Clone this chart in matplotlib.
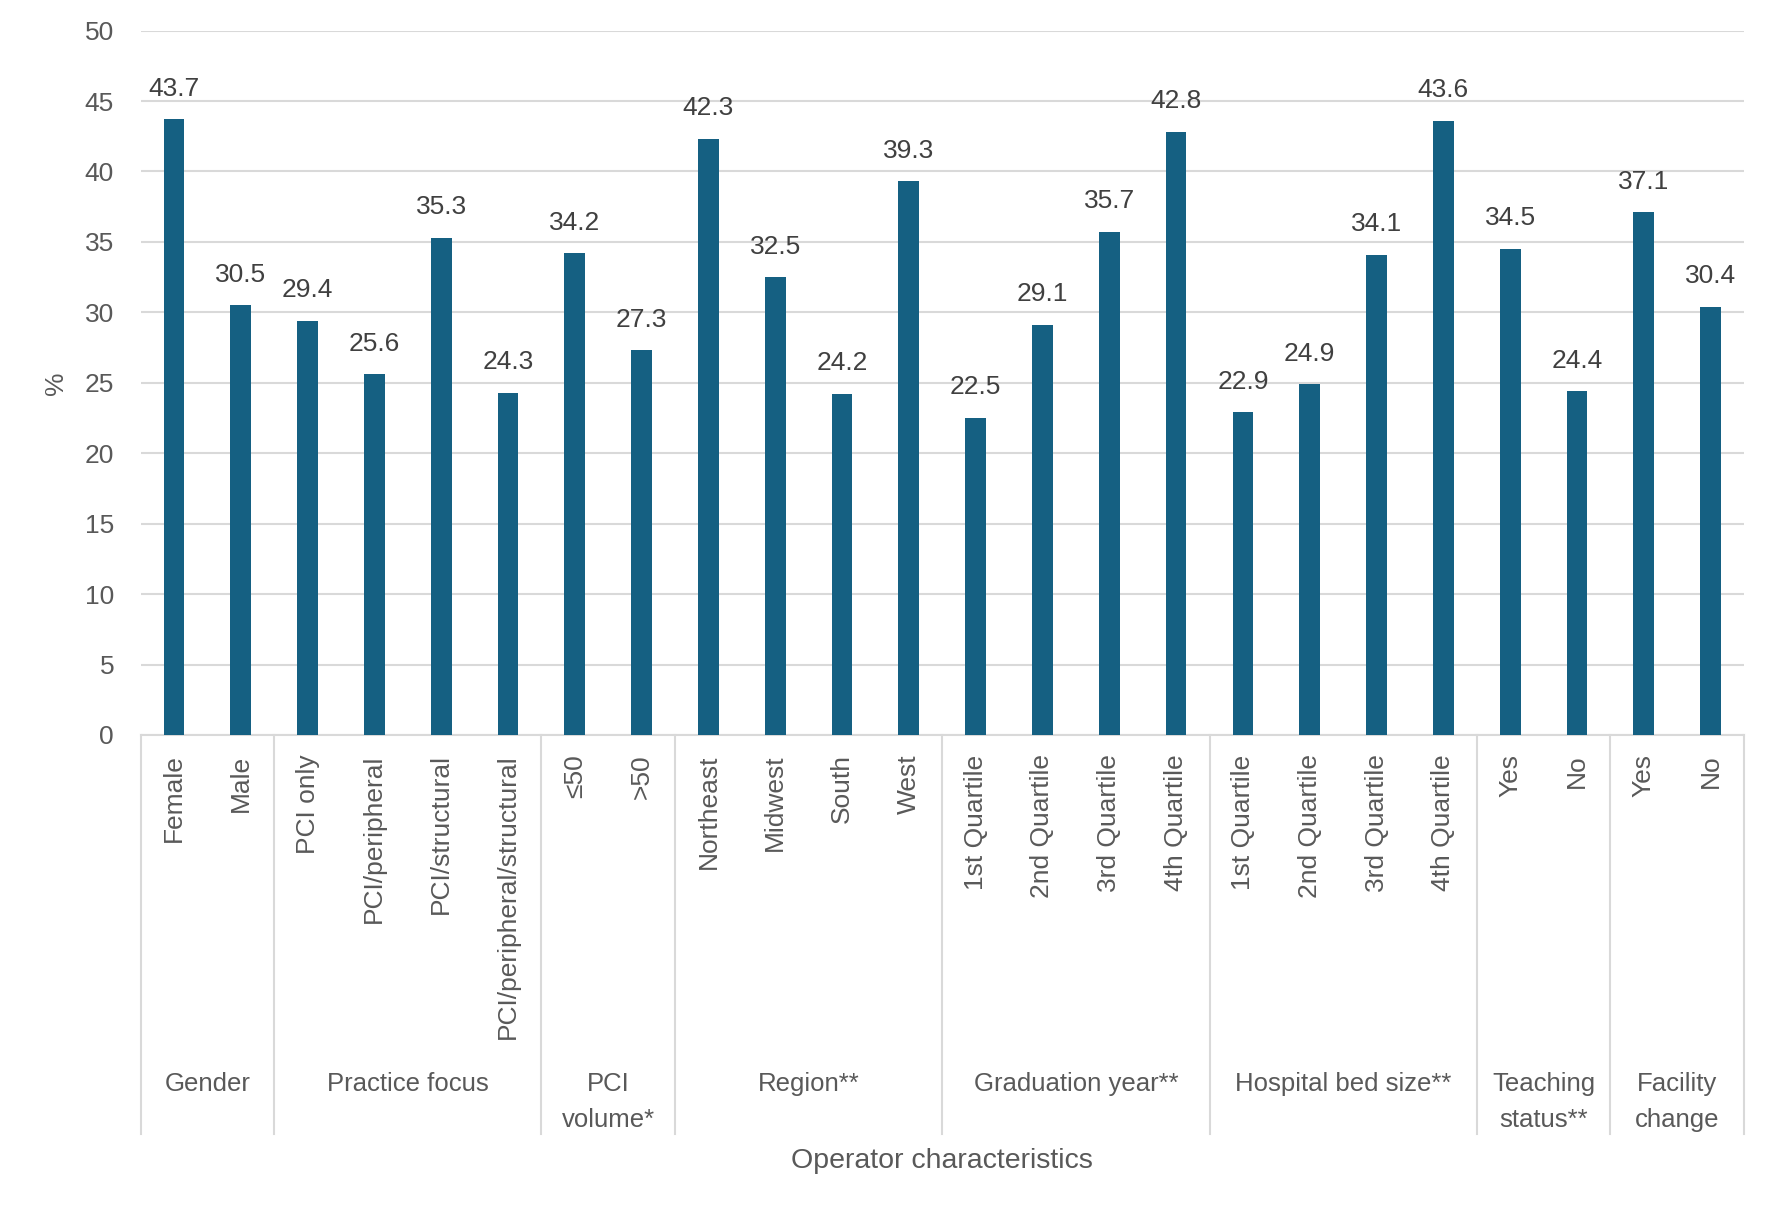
import matplotlib.pyplot as plt
from matplotlib.transforms import blended_transform_factory
from matplotlib.lines import Line2D

categories = ['Female', 'Male',
              'PCI only', 'PCI/peripheral', 'PCI/structural', 'PCI/peripheral/structural',
              '≤50', '>50',
              'Northeast', 'Midwest', 'South', 'West',
              '1st Quartile', '2nd Quartile', '3rd Quartile', '4th Quartile',
              '1st Quartile', '2nd Quartile', '3rd Quartile', '4th Quartile',
              'Yes', 'No',
              'Yes', 'No']
values = [43.7, 30.5,
          29.4, 25.6, 35.3, 24.3,
          34.2, 27.3,
          42.3, 32.5, 24.2, 39.3,
          22.5, 29.1, 35.7, 42.8,
          22.9, 24.9, 34.1, 43.6,
          34.5, 24.4,
          37.1, 30.4]
groups = ['Gender', 'Practice focus', 'PCI\nvolume*', 'Region**', 'Graduation year**',
          'Hospital bed size**', 'Teaching\nstatus**', 'Facility\nchange']
group_sizes = [2, 4, 2, 4, 4, 4, 2, 2]

BAR = '#156082'
TEXT = '#595959'
GRID = '#d9d9d9'
W, H = 1776, 1216

plt.rcParams['font.family'] = ['Liberation Sans', 'DejaVu Sans']

fig = plt.figure(figsize=(W / 100, H / 100), dpi=100)
ax = fig.add_axes([140.5 / W, 1 - 735 / H, (1744 - 140.5) / W, (735 - 30.6) / H])

x = list(range(len(values)))
ax.bar(x, values, width=0.31, color=BAR, zorder=3)
for xi, v in zip(x, values):
    ax.annotate(f'{v:.1f}', (xi, v), xytext=(0, 17), textcoords='offset points',
                ha='center', va='baseline', fontsize=19, color='#404040')

ax.set_xlim(-0.5, len(values) - 0.5)
ax.set_ylim(0, 50)
ax.set_yticks(range(0, 51, 5))
ax.yaxis.grid(True, color=GRID, linewidth=1.5, zorder=0)
ax.tick_params(axis='y', length=0, pad=19, labelsize=19, labelcolor=TEXT)
ax.set_xticks(x)
ax.set_xticklabels(categories, rotation=90, va='top', ha='center')
ax.tick_params(axis='x', length=0, pad=14, labelsize=19, labelcolor=TEXT)
for s in ['left', 'right', 'top']:
    ax.spines[s].set_visible(False)
ax.spines['bottom'].set_color(GRID)
ax.spines['bottom'].set_linewidth(1.5)

# group separators and labels below the axis
tr = blended_transform_factory(ax.transData, fig.transFigure)
y_axis = 1 - 735 / H
y_low = 1 - 1134 / H
start = 0
bounds = [-0.5]
for name, n in zip(groups, group_sizes):
    mid = start + (n - 1) / 2
    ax.text(mid, 1 - 1072 / H, name, transform=tr, ha='center', va='top',
            fontsize=18.5, color=TEXT, linespacing=1.65)
    start += n
    bounds.append(start - 0.5)
for b in bounds:
    fig.add_artist(Line2D([b, b], [y_axis, y_low], transform=tr, color=GRID, linewidth=1.5))

fig.text(942 / W, 1 - 1161 / H, 'Operator characteristics', ha='center', va='center',
         fontsize=20.5, color=TEXT)
fig.text(56 / W, 1 - 383 / H, '%', rotation=90, ha='center', va='center',
         fontsize=19, color=TEXT)

fig.savefig('out.png', dpi=100)
